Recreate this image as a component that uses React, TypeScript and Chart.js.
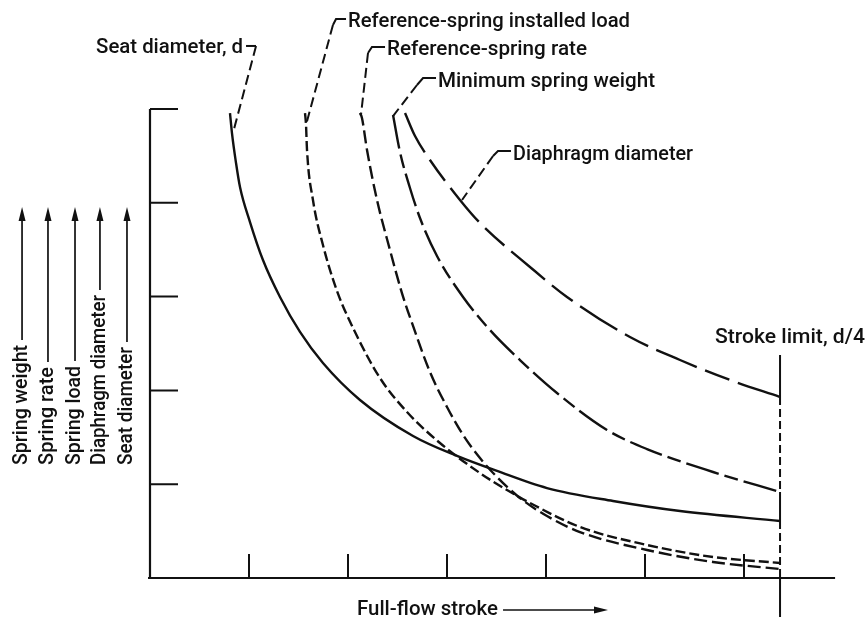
import React, { useEffect, useRef } from "react";
import { Chart, registerables } from "chart.js";

Chart.register(...registerables);

// ---- data (x: full-flow stroke, y: relative magnitude) ----
const seatX = [0.808, 0.828, 0.869, 0.909, 1.01, 1.141, 1.313, 1.515, 1.747, 2.121, 2.657, 3.101, 3.505, 4.01, 4.677, 5.354, 6.364];
const seatY = [4.957, 4.744, 4.424, 4.168, 3.795, 3.39, 2.996, 2.623, 2.292, 1.898, 1.514, 1.301, 1.141, 0.959, 0.821, 0.714, 0.608];

const loadX = [1.566, 1.576, 1.586, 1.646, 1.747, 1.889, 2.051, 2.323, 2.596, 2.929, 3.333, 3.606, 3.838, 4.343, 5.02, 5.687, 6.364];
const loadY = [4.957, 4.829, 4.563, 4.03, 3.55, 3.06, 2.665, 2.132, 1.77, 1.439, 1.119, 0.938, 0.8, 0.544, 0.352, 0.224, 0.16];

const rateX = [2.121, 2.141, 2.192, 2.293, 2.424, 2.545, 2.657, 2.828, 3.0, 3.162, 3.333, 3.505, 3.737, 4.01, 4.343, 5.02, 5.687, 6.364];
const rateY = [4.957, 4.904, 4.563, 4.03, 3.497, 3.038, 2.687, 2.196, 1.823, 1.525, 1.279, 1.077, 0.853, 0.661, 0.49, 0.299, 0.171, 0.096];

const weightX = [2.455, 2.525, 2.626, 2.727, 2.899, 3.162, 3.434, 3.737, 4.111, 4.616, 5.02, 5.687, 6.364];
const weightY = [4.936, 4.542, 4.158, 3.838, 3.433, 2.996, 2.644, 2.324, 1.972, 1.578, 1.375, 1.13, 0.917];

const diaphX = [2.576, 2.677, 2.828, 3.131, 3.333, 3.838, 4.212, 4.848, 5.354, 5.859, 6.364];
const diaphY = [4.957, 4.712, 4.456, 4.03, 3.785, 3.316, 2.996, 2.569, 2.324, 2.111, 1.93];

const xTicks = [1, 2, 3, 4, 5, 6];
const yTicks = [1, 2, 3, 4, 5];
const strokeLimitX = 6.364;

const curveLabels = [
  "Seat diameter, d",
  "Reference-spring installed load",
  "Reference-spring rate",
  "Minimum spring weight",
  "Diaphragm diameter",
];
const yAxisLabels = ["Spring weight", "Spring rate", "Spring load", "Diaphragm diameter", "Seat diameter"];
const xAxisLabel = "Full-flow stroke";
const strokeLimitLabel = "Stroke limit, d/4";

const FONT = "500 21px Roboto, 'DejaVu Sans', sans-serif";
const INK = "#111";

const pts = (xs: number[], ys: number[]) => xs.map((x, i) => ({ x, y: ys[i] }));

function fitText(ctx: CanvasRenderingContext2D, text: string, px: number, py: number, width: number, rotate = false) {
  ctx.save();
  ctx.translate(px, py);
  if (rotate) ctx.rotate(-Math.PI / 2);
  ctx.font = FONT;
  ctx.textAlign = "left";
  ctx.textBaseline = "alphabetic";
  const w = ctx.measureText(text).width;
  ctx.scale(width / w, 1);
  ctx.fillStyle = INK;
  ctx.fillText(text, 0, 0);
  ctx.restore();
}

// annotation layout in data coordinates
const curveLabelLayout = [
  { x: -0.545, y: 5.597, w: 147, leader: [[0.97, 5.672], [1.071, 5.672], [0.838, 4.744]] },
  { x: 2.0, y: 5.874, w: 282, leader: [[1.98, 5.96], [1.879, 5.96], [1.848, 5.896], [1.576, 4.829]] },
  { x: 2.394, y: 5.576, w: 200, leader: [[2.374, 5.661], [2.242, 5.661], [2.202, 5.597], [2.131, 4.936]] },
  { x: 2.909, y: 5.235, w: 217, leader: [[2.889, 5.33], [2.758, 5.33], [2.697, 5.256], [2.455, 4.925]] },
  { x: 3.667, y: 4.456, w: 180, leader: [[3.646, 4.552], [3.515, 4.552], [3.465, 4.499], [3.152, 4.03]] },
];
const yLabelLayout = [
  { bx: -1.242, w: 120 },
  { bx: -0.98, w: 98 },
  { bx: -0.707, w: 99 },
  { bx: -0.455, w: 170 },
  { bx: -0.182, w: 118 },
];

const drawPlugin = {
  id: "figureDecor",
  afterDraw(chart: any) {
    const { ctx, scales } = chart;
    const X = (v: number) => scales.x.getPixelForValue(v);
    const Y = (v: number) => scales.y.getPixelForValue(v);
    ctx.save();
    ctx.strokeStyle = INK;
    ctx.fillStyle = INK;
    ctx.lineCap = "butt";

    // axes
    ctx.lineWidth = 2.2;
    ctx.setLineDash([]);
    ctx.beginPath();
    ctx.moveTo(X(0), Y(5));
    ctx.lineTo(X(0), Y(0));
    ctx.moveTo(X(-0.02), Y(0));
    ctx.lineTo(X(6.92), Y(0));
    ctx.stroke();

    // y ticks (inward)
    ctx.lineWidth = 2;
    ctx.beginPath();
    yTicks.forEach((t) => {
      ctx.moveTo(X(0), Y(t));
      ctx.lineTo(X(0) + 28, Y(t));
    });
    // x ticks (inward)
    xTicks.forEach((t) => {
      ctx.moveTo(X(t), Y(0));
      ctx.lineTo(X(t), Y(0) - 24);
    });
    ctx.stroke();

    // stroke limit line
    const sx = X(strokeLimitX);
    ctx.lineWidth = 2;
    ctx.beginPath();
    ctx.moveTo(sx, Y(2.377));
    ctx.lineTo(sx, Y(1.93));
    ctx.moveTo(sx, Y(0.917));
    ctx.lineTo(sx, Y(0.608));
    ctx.moveTo(sx, Y(0));
    ctx.lineTo(sx, Y(-0.416));
    ctx.stroke();
    ctx.setLineDash([8, 4]);
    ctx.beginPath();
    ctx.moveTo(sx, Y(1.93));
    ctx.lineTo(sx, Y(0.917));
    ctx.moveTo(sx, Y(0.608));
    ctx.lineTo(sx, Y(0));
    ctx.stroke();
    ctx.setLineDash([]);
    fitText(ctx, strokeLimitLabel, X(5.707), Y(2.505), 150);

    // curve labels + leaders
    curveLabels.forEach((label, i) => {
      const L = curveLabelLayout[i];
      fitText(ctx, label, X(L.x), Y(L.y), L.w);
      const p = L.leader;
      ctx.lineWidth = 2;
      ctx.setLineDash([]);
      ctx.beginPath();
      ctx.moveTo(X(p[0][0]), Y(p[0][1]));
      for (let k = 1; k < p.length - 1; k++) ctx.lineTo(X(p[k][0]), Y(p[k][1]));
      ctx.stroke();
      ctx.setLineDash([10, 5]);
      ctx.beginPath();
      ctx.moveTo(X(p[p.length - 2][0]), Y(p[p.length - 2][1]));
      ctx.lineTo(X(p[p.length - 1][0]), Y(p[p.length - 1][1]));
      ctx.stroke();
      ctx.setLineDash([]);
    });

    // y axis labels with arrows
    yAxisLabels.forEach((label, i) => {
      const L = yLabelLayout[i];
      const bx = X(L.bx);
      const y0 = Y(1.205);
      fitText(ctx, label, bx, y0, L.w, true);
      const ax = bx - 5;
      const tip = Y(3.955);
      ctx.lineWidth = 1.7;
      ctx.beginPath();
      ctx.moveTo(ax, y0 - L.w - 5);
      ctx.lineTo(ax, tip + 10);
      ctx.stroke();
      ctx.beginPath();
      ctx.moveTo(ax, tip);
      ctx.lineTo(ax - 3.5, tip + 14);
      ctx.lineTo(ax + 3.5, tip + 14);
      ctx.closePath();
      ctx.fill();
    });

    // x axis label with arrow
    fitText(ctx, xAxisLabel, X(2.091), Y(-0.394), 141);
    const ay = Y(-0.341);
    const a0 = X(3.566);
    const a1 = X(4.626);
    ctx.lineWidth = 1.7;
    ctx.beginPath();
    ctx.moveTo(a0, ay);
    ctx.lineTo(a1 - 10, ay);
    ctx.stroke();
    ctx.beginPath();
    ctx.moveTo(a1, ay);
    ctx.lineTo(a1 - 14, ay - 3.5);
    ctx.lineTo(a1 - 14, ay + 3.5);
    ctx.closePath();
    ctx.fill();

    ctx.restore();
  },
};

const curve = (xs: number[], ys: number[], dash: number[]) => ({
  data: pts(xs, ys),
  showLine: true,
  borderColor: INK,
  borderWidth: 2.4,
  borderDash: dash,
  borderCapStyle: "butt" as const,
  pointRadius: 0,
  cubicInterpolationMode: "monotone" as const,
  fill: false,
});

export default function App() {
  const ref = useRef<HTMLCanvasElement>(null);
  useEffect(() => {
    const canvas = ref.current!;
    const chart = new Chart(canvas, {
      type: "scatter",
      data: {
        datasets: [
          curve(seatX, seatY, []),
          curve(loadX, loadY, [10, 4]),
          curve(rateX, rateY, [13, 5]),
          curve(weightX, weightY, [34, 6, 14, 6]),
          curve(diaphX, diaphY, [44, 9, 26, 9]),
        ] as any,
      },
      options: {
        responsive: false,
        devicePixelRatio: 1,
        animation: false,
        events: [],
        layout: { padding: { left: 150, right: 25, top: 109, bottom: 47 } },
        scales: {
          x: { type: "linear", min: 0, max: 7, display: false },
          y: { type: "linear", min: 0, max: 5, display: false },
        },
        plugins: { legend: { display: false }, tooltip: { enabled: false } },
      },
      plugins: [drawPlugin],
    });
    return () => chart.destroy();
  }, []);
  return (
    <div style={{ position: "fixed", left: 0, top: 0, width: 868, height: 625, background: "#fff" }}>
      <canvas ref={ref} width={868} height={625} style={{ display: "block" }} />
    </div>
  );
}
